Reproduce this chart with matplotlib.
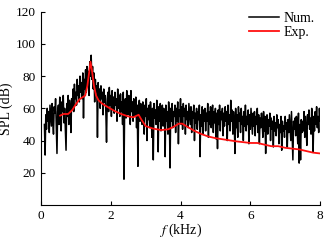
import numpy as np
import matplotlib
matplotlib.use("Agg")
import matplotlib.pyplot as plt

plt.rcParams['font.family'] = ['Liberation Serif', 'DejaVu Serif']
plt.rcParams['mathtext.fontset'] = 'stix'

# numerical spectrum, 0.1 .. 8.0 kHz
num_spl = [
    50, 31, 56, 47, 60, 52, 58, 45, 62, 55,
    49, 63, 52, 44, 61, 57, 66, 48, 32, 58,
    62, 50, 67, 55, 46, 64, 58, 68, 51, 60,
    47, 34, 63, 55, 68, 50, 65, 59, 45, 66,
    60, 72, 58, 75, 66, 70, 62, 78, 68, 74,
    64, 80, 70, 76, 66, 82, 54, 78, 72, 84,
    70, 86, 76, 83, 68, 89, 80, 93, 78, 86,
    72, 82, 64, 78, 70, 74, 42, 76, 66, 72,
    60, 74, 66, 70, 56, 72, 64, 68, 58, 39,
    66, 70, 58, 73, 62, 68, 55, 71, 60, 67,
    57, 70, 62, 66, 52, 72, 60, 68, 55, 69,
    58, 64, 50, 70, 16, 62, 66, 54, 71, 60,
    56, 68, 62, 50, 71, 58, 64, 52, 66, 60,
    55, 67, 48, 62, 24, 60, 65, 52, 63, 57,
    50, 64, 58, 44, 62, 55, 66, 40, 60, 53,
    62, 48, 64, 56, 42, 60, 28, 63, 54, 59,
    50, 65, 57, 33, 61, 52, 63, 46, 58, 62,
    49, 60, 55, 30, 62, 52, 58, 44, 64, 56,
    23, 60, 52, 63, 48, 58, 55, 62, 45, 60,
    52, 64, 38, 59, 55, 66, 50, 61, 47, 63,
    55, 60, 44, 62, 53, 58, 48, 63, 56, 50,
    61, 45, 58, 54, 62, 40, 57, 51, 60, 47,
    58, 53, 62, 30, 56, 49, 61, 44, 59, 52,
    60, 46, 57, 52, 63, 42, 58, 50, 61, 48,
    56, 62, 45, 58, 51, 60, 41, 57, 35, 59,
    50, 62, 46, 58, 53, 60, 43, 57, 49, 61,
    52, 58, 40, 62, 50, 56, 46, 65, 52, 59,
    44, 58, 51, 32, 60, 48, 56, 42, 61, 52,
    57, 45, 60, 50, 55, 40, 58, 49, 62, 46,
    55, 50, 59, 38, 56, 47, 60, 52, 44, 57,
    49, 58, 43, 55, 50, 60, 45, 56, 38, 54,
    48, 57, 51, 42, 58, 46, 55, 32, 52, 56,
    44, 53, 49, 57, 40, 54, 47, 52, 36, 55,
    46, 51, 43, 56, 48, 53, 38, 50, 45, 55,
    34, 52, 46, 49, 42, 55, 47, 51, 36, 53,
    45, 56, 48, 40, 58, 44, 28, 52, 47, 54,
    43, 55, 49, 38, 57, 26, 50, 28, 53, 45,
    52, 46, 58, 42, 55, 48, 37, 56, 50, 59,
    47, 54, 44, 60, 49, 33, 55, 46, 58, 50,
    61, 48, 55, 45, 60, 52,
]
num_f = np.linspace(0.1, 8.0, len(num_spl))

# experiment
exp_f = [0.55, 0.65, 0.78, 0.9, 1.0, 1.1, 1.2, 1.27, 1.33, 1.38, 1.42, 1.46,
         1.52, 1.58, 1.65, 1.75, 1.9, 2.1, 2.3, 2.5, 2.65, 2.75, 2.8, 2.88,
         3.0, 3.2, 3.45, 3.65, 3.8, 3.95, 4.05, 4.2, 4.4, 4.6, 4.8, 5.0,
         5.3, 5.6, 5.8, 6.0, 6.2, 6.4, 6.6, 6.8, 7.0, 7.2, 7.4, 7.6, 7.8, 8.0]
exp_spl = [55.5, 56.5, 56.5, 59, 62.5, 65.5, 67, 68, 74, 82, 89, 84,
           74, 68, 65, 63, 61, 58.5, 56.5, 55, 54.5, 55.5, 56, 53,
           49, 47.5, 46.5, 47, 48.5, 50.5, 50.5, 48.5, 46, 44, 42.5, 41.5,
           40.5, 39.5, 39, 38.5, 38.5, 37.5, 36.5, 36.5, 35.5, 35, 34.5, 33.5, 32.5, 32]

xticks = [0, 2, 4, 6, 8]
yticks = [20, 40, 60, 80, 100, 120]

fig = plt.figure(figsize=(3.3, 2.4), dpi=100)
ax = fig.add_axes([0.124, 0.146, 0.846, 0.805])
ax.plot(num_f, num_spl, color='black', lw=1.1, label='Num.')
ax.plot(exp_f, exp_spl, color='#ff1010', lw=1.3, label='Exp.')

ax.set_xlim(0, 8)
ax.set_ylim(0, 120)
ax.set_xticks(xticks)
ax.set_yticks(yticks)
ax.tick_params(direction='in', labelsize=9.5, length=3, width=0.8)
ax.spines['top'].set_visible(False)
ax.spines['right'].set_visible(False)
ax.set_xlabel(r'$f$ (kHz)', fontsize=10, labelpad=0)
ax.set_ylabel('SPL (dB)', fontsize=10, labelpad=2)
ax.legend(loc='upper right', frameon=False, fontsize=10, handlelength=2.2,
          handletextpad=0.3, borderaxespad=0.0, labelspacing=0.1,
          bbox_to_anchor=(1.0, 1.03))

fig.savefig('out.png', dpi=100)
